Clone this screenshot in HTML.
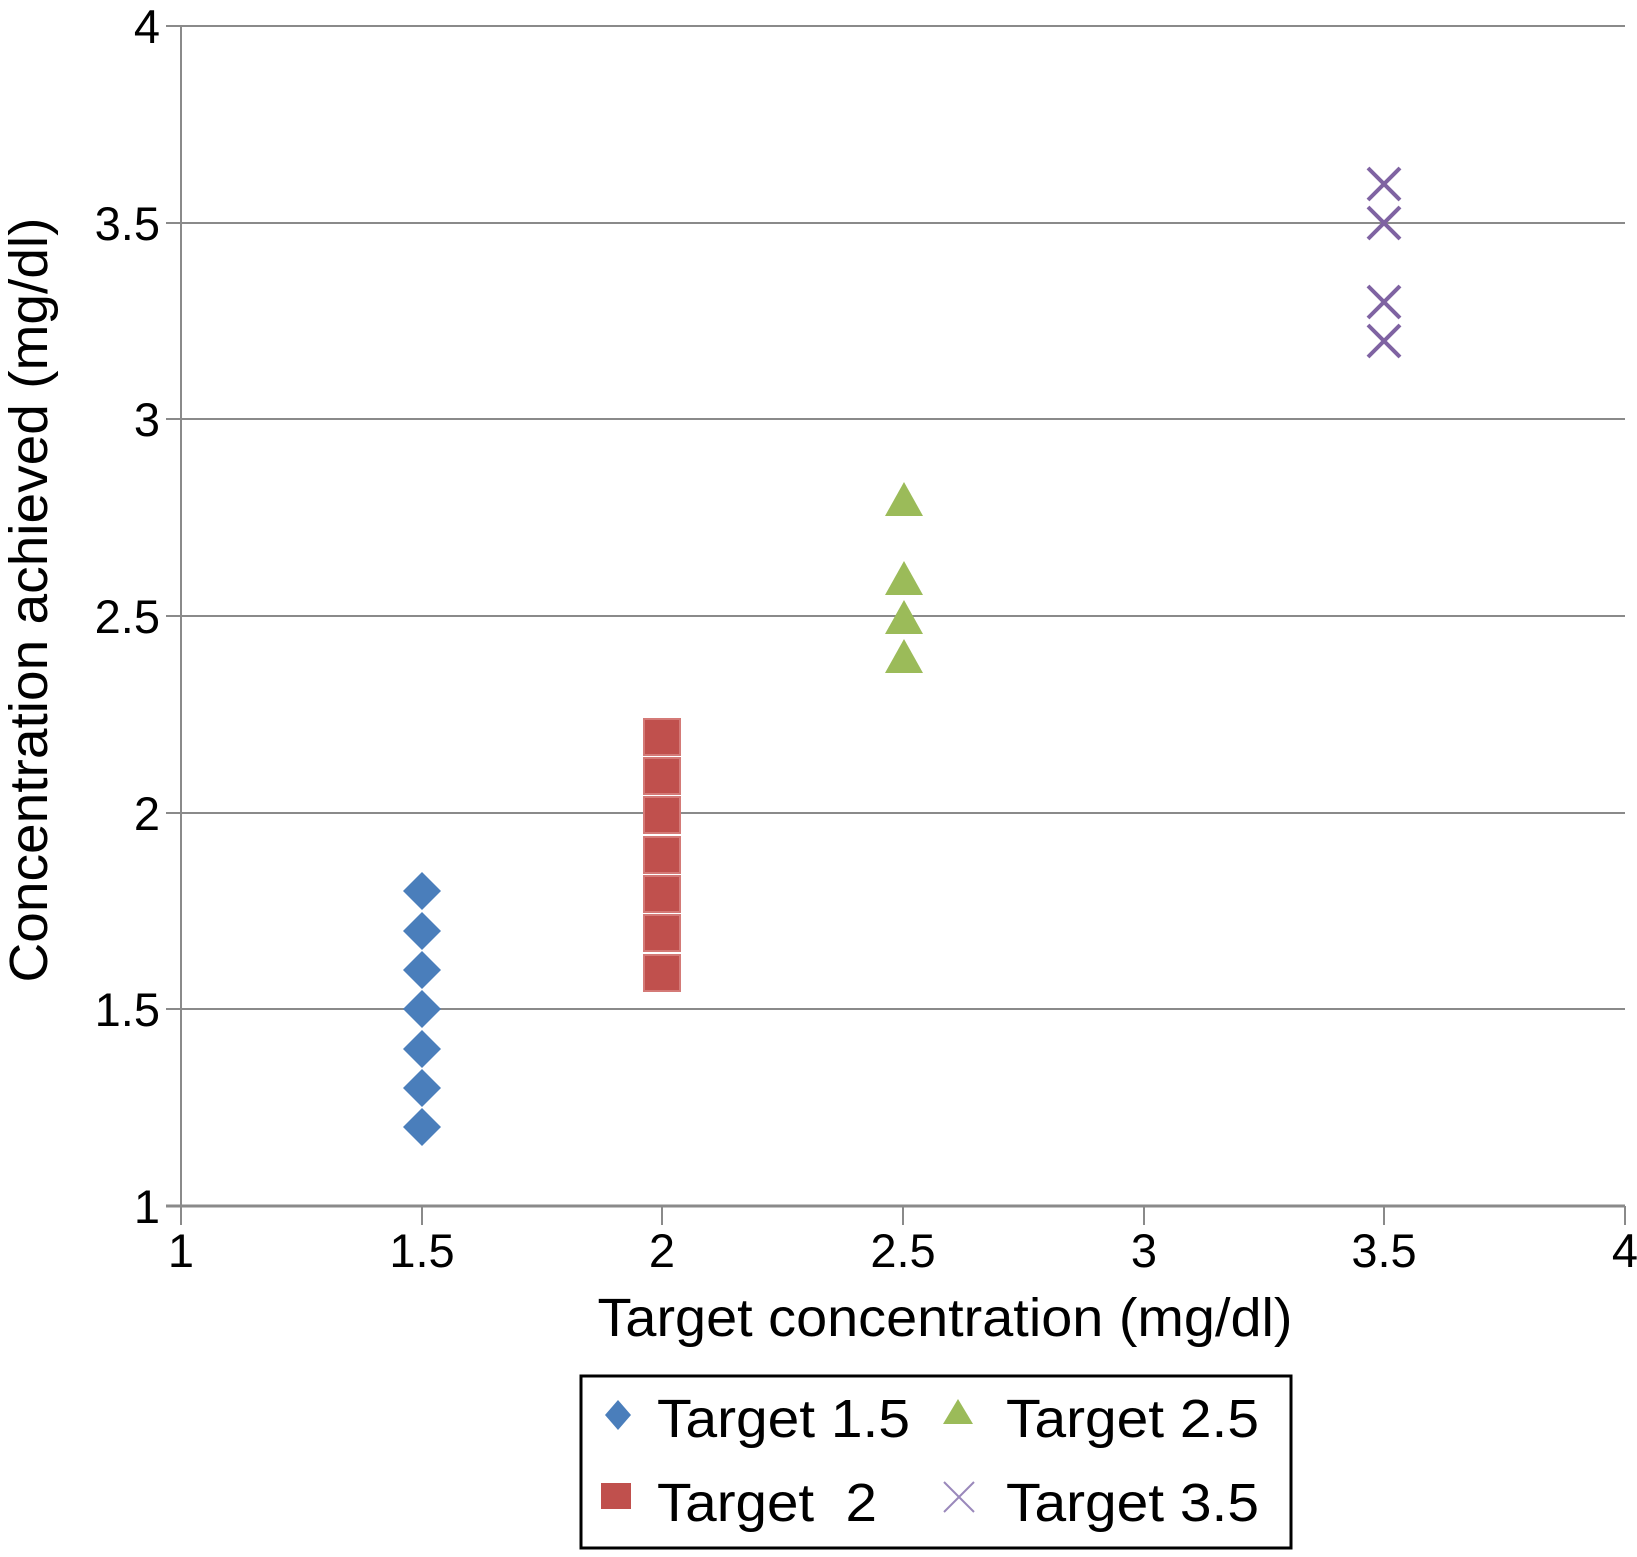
<!DOCTYPE html>
<html><head><style>body{margin:0;background:#fff}</style></head><body>
<svg width="1637" height="1552" viewBox="0 0 1637 1552" xmlns="http://www.w3.org/2000/svg" font-family="Liberation Sans, sans-serif">
<g stroke="#8a8a8a" stroke-width="2">
<line x1="166" y1="26" x2="1625" y2="26"/>
<line x1="166" y1="223" x2="1625" y2="223"/>
<line x1="166" y1="419" x2="1625" y2="419"/>
<line x1="166" y1="616" x2="1625" y2="616"/>
<line x1="166" y1="813" x2="1625" y2="813"/>
<line x1="166" y1="1009" x2="1625" y2="1009"/>
<line x1="166" y1="1206" x2="1625" y2="1206" stroke-width="3"/>
<line x1="181" y1="26" x2="181" y2="1225"/>
<line x1="422" y1="1206" x2="422" y2="1225"/>
<line x1="662" y1="1206" x2="662" y2="1225"/>
<line x1="903" y1="1206" x2="903" y2="1225"/>
<line x1="1144" y1="1206" x2="1144" y2="1225"/>
<line x1="1384" y1="1206" x2="1384" y2="1225"/>
<line x1="1625" y1="1206" x2="1625" y2="1225"/>
</g>
<g font-size="47" text-anchor="end" fill="#000">
<text x="160" y="43">4</text><text x="160" y="240">3.5</text><text x="160" y="436">3</text>
<text x="160" y="633">2.5</text><text x="160" y="830">2</text><text x="160" y="1026">1.5</text><text x="160" y="1223">1</text>
</g>
<g font-size="47" text-anchor="middle">
<text x="181" y="1267">1</text><text x="422" y="1267">1.5</text><text x="662" y="1267">2</text>
<text x="903" y="1267">2.5</text><text x="1144" y="1267">3</text><text x="1384" y="1267">3.5</text><text x="1625" y="1267">4</text>
</g>
<text x="945" y="1336" font-size="54" text-anchor="middle" textLength="695" lengthAdjust="spacingAndGlyphs">Target concentration (mg/dl)</text>
<text transform="translate(47,600) rotate(-90)" font-size="54" text-anchor="middle" textLength="765" lengthAdjust="spacingAndGlyphs">Concentration achieved (mg/dl)</text>
<g fill="#4a7ebb">
<path d="M422,872 l19,19 -19,19 -19,-19z"/><path d="M422,912 l19,19 -19,19 -19,-19z"/>
<path d="M422,951 l19,19 -19,19 -19,-19z"/><path d="M422,990 l19,19 -19,19 -19,-19z"/>
<path d="M422,1030 l19,19 -19,19 -19,-19z"/><path d="M422,1069 l19,19 -19,19 -19,-19z"/>
<path d="M422,1108 l19,19 -19,19 -19,-19z"/>
</g>
<g fill="#c0504d" stroke="#d47a77" stroke-width="2">
<rect x="644" y="719" width="36" height="36"/><rect x="644" y="758" width="36" height="36"/>
<rect x="644" y="797" width="36" height="36"/><rect x="644" y="837" width="36" height="36"/>
<rect x="644" y="876" width="36" height="36"/><rect x="644" y="915" width="36" height="36"/>
<rect x="644" y="955" width="36" height="36"/>
</g>
<g fill="#9bbb59">
<path d="M904,482 l19,34 -38,0z"/><path d="M904,561 l19,34 -38,0z"/>
<path d="M904,600 l19,34 -38,0z"/><path d="M904,639 l19,34 -38,0z"/>
</g>
<g stroke="#7f63a2" stroke-width="4">
<path d="M1368,168 l32,32 M1400,168 l-32,32"/><path d="M1368,207 l32,32 M1400,207 l-32,32"/>
<path d="M1368,286 l32,32 M1400,286 l-32,32"/><path d="M1368,325 l32,32 M1400,325 l-32,32"/>
</g>
<rect x="581" y="1376" width="710" height="172" fill="none" stroke="#000" stroke-width="3"/>
<path d="M618,1400 l13,15 -13,15 -13,-15z" fill="#4a7ebb"/>
<path d="M958,1399 l15,25 -30,0z" fill="#9bbb59"/>
<rect x="601" y="1483" width="30" height="26" fill="#c0504d"/>
<path d="M944,1482 l30,30 M974,1482 l-30,30" stroke="#9a88bb" stroke-width="2"/>
<g font-size="54">
<text x="657" y="1437" textLength="253" lengthAdjust="spacingAndGlyphs">Target 1.5</text><text x="1006" y="1437" textLength="253" lengthAdjust="spacingAndGlyphs">Target 2.5</text>
<text x="657" y="1521" xml:space="preserve" textLength="220" lengthAdjust="spacingAndGlyphs">Target  2</text><text x="1006" y="1521" textLength="253" lengthAdjust="spacingAndGlyphs">Target 3.5</text>
</g>
</svg>
</body></html>
